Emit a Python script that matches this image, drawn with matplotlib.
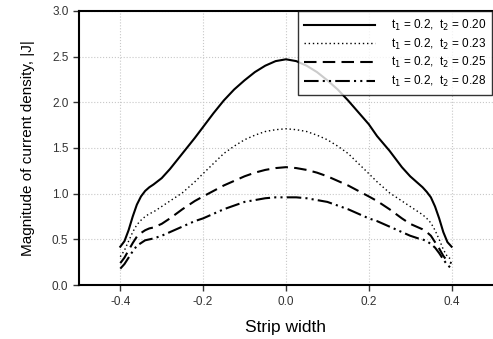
import numpy as np
import matplotlib
matplotlib.use('Agg')
import matplotlib.pyplot as plt
from matplotlib.ticker import FormatStrFormatter

plt.rcParams['font.family'] = ['Liberation Sans', 'DejaVu Sans']

x = [-0.40, -0.39, -0.38, -0.37, -0.36, -0.35, -0.34, -0.33, -0.32, -0.30,
     -0.28, -0.25, -0.22, -0.20, -0.175, -0.15, -0.125, -0.10, -0.075, -0.05,
     -0.025, 0.00, 0.025, 0.05, 0.075, 0.10, 0.125, 0.15, 0.175, 0.20,
     0.22, 0.25, 0.28, 0.30, 0.32, 0.33, 0.34, 0.35, 0.36, 0.37,
     0.38, 0.39, 0.40]

j_020 = [0.42, 0.48, 0.60, 0.75, 0.88, 0.97, 1.03, 1.07, 1.10, 1.17,
         1.27, 1.44, 1.61, 1.73, 1.88, 2.02, 2.14, 2.24, 2.33, 2.40,
         2.45, 2.47, 2.45, 2.40, 2.33, 2.24, 2.14, 2.02, 1.89, 1.76,
         1.63, 1.47, 1.29, 1.19, 1.11, 1.07, 1.02, 0.96, 0.86, 0.73,
         0.58, 0.47, 0.42]
j_023 = [0.31, 0.38, 0.48, 0.58, 0.66, 0.71, 0.75, 0.78, 0.80, 0.86,
         0.92, 1.01, 1.13, 1.22, 1.33, 1.44, 1.52, 1.59, 1.64, 1.68,
         1.70, 1.71, 1.70, 1.68, 1.64, 1.59, 1.52, 1.44, 1.33, 1.22,
         1.13, 1.01, 0.92, 0.86, 0.80, 0.77, 0.73, 0.68, 0.60, 0.50,
         0.39, 0.31, 0.28]
j_025 = [0.24, 0.30, 0.38, 0.46, 0.53, 0.57, 0.60, 0.62, 0.63, 0.67,
         0.73, 0.83, 0.92, 0.97, 1.03, 1.09, 1.14, 1.19, 1.23, 1.26,
         1.28, 1.29, 1.28, 1.26, 1.23, 1.19, 1.14, 1.09, 1.03, 0.97,
         0.92, 0.83, 0.73, 0.67, 0.63, 0.61, 0.58, 0.54, 0.47, 0.40,
         0.32, 0.26, 0.24]
j_028 = [0.18, 0.23, 0.30, 0.37, 0.43, 0.46, 0.49, 0.50, 0.51, 0.54,
         0.58, 0.64, 0.70, 0.73, 0.78, 0.83, 0.87, 0.91, 0.93, 0.95,
         0.96, 0.96, 0.96, 0.95, 0.93, 0.91, 0.87, 0.83, 0.78, 0.73,
         0.70, 0.64, 0.58, 0.54, 0.51, 0.50, 0.48, 0.45, 0.41, 0.35,
         0.28, 0.22, 0.18]

labels = ['t$_1$ = 0.2,  t$_2$ = 0.20', 't$_1$ = 0.2,  t$_2$ = 0.23',
          't$_1$ = 0.2,  t$_2$ = 0.25', 't$_1$ = 0.2,  t$_2$ = 0.28']

fig = plt.figure(figsize=(4.93, 3.39), dpi=100)
ax = fig.add_axes([0.160, 0.159, 0.840, 0.809])

ax.plot(x, j_020, color='black', lw=1.5, ls='-', label=labels[0])
ax.plot(x, j_023, color='black', lw=1.0, ls=(0, (1, 2)), label=labels[1])
ax.plot(x, j_025, color='black', lw=1.5, ls=(0, (6, 3)), label=labels[2])
ax.plot(x, j_028, color='black', lw=1.5, ls=(0, (7, 2, 1, 2, 1, 2)), label=labels[3])

ax.set_xlim(-0.5, 0.5)
ax.set_ylim(0.0, 3.0)
ax.set_xticks([-0.4, -0.2, 0.0, 0.2, 0.4])
ax.set_yticks(np.arange(0, 3.01, 0.5))
ax.xaxis.set_major_formatter(FormatStrFormatter('%.1f'))
ax.yaxis.set_major_formatter(FormatStrFormatter('%.1f'))
ax.tick_params(labelsize=8.5, length=4, width=1, direction='out', colors='#333333')
ax.grid(True, ls=':', color='#c8c8c8', lw=0.8)
ax.set_axisbelow(True)
for s in ['left', 'bottom', 'top']:
    ax.spines[s].set_linewidth(1.5)
ax.spines['right'].set_visible(False)

ax.set_xlabel('Strip width', fontsize=12.5, labelpad=9)
ax.set_ylabel('Magnitude of current density, |J|', fontsize=11, labelpad=12)

leg = ax.legend(loc='upper right', bbox_to_anchor=(1.0, 1.0), fontsize=8.5,
                handlelength=6.0, handletextpad=1.3, frameon=True, fancybox=False,
                edgecolor='black', borderpad=0.55, labelspacing=0.3,
                borderaxespad=0.05)
leg.get_frame().set_linewidth(1.0)

fig.savefig('out.png', dpi=100)
